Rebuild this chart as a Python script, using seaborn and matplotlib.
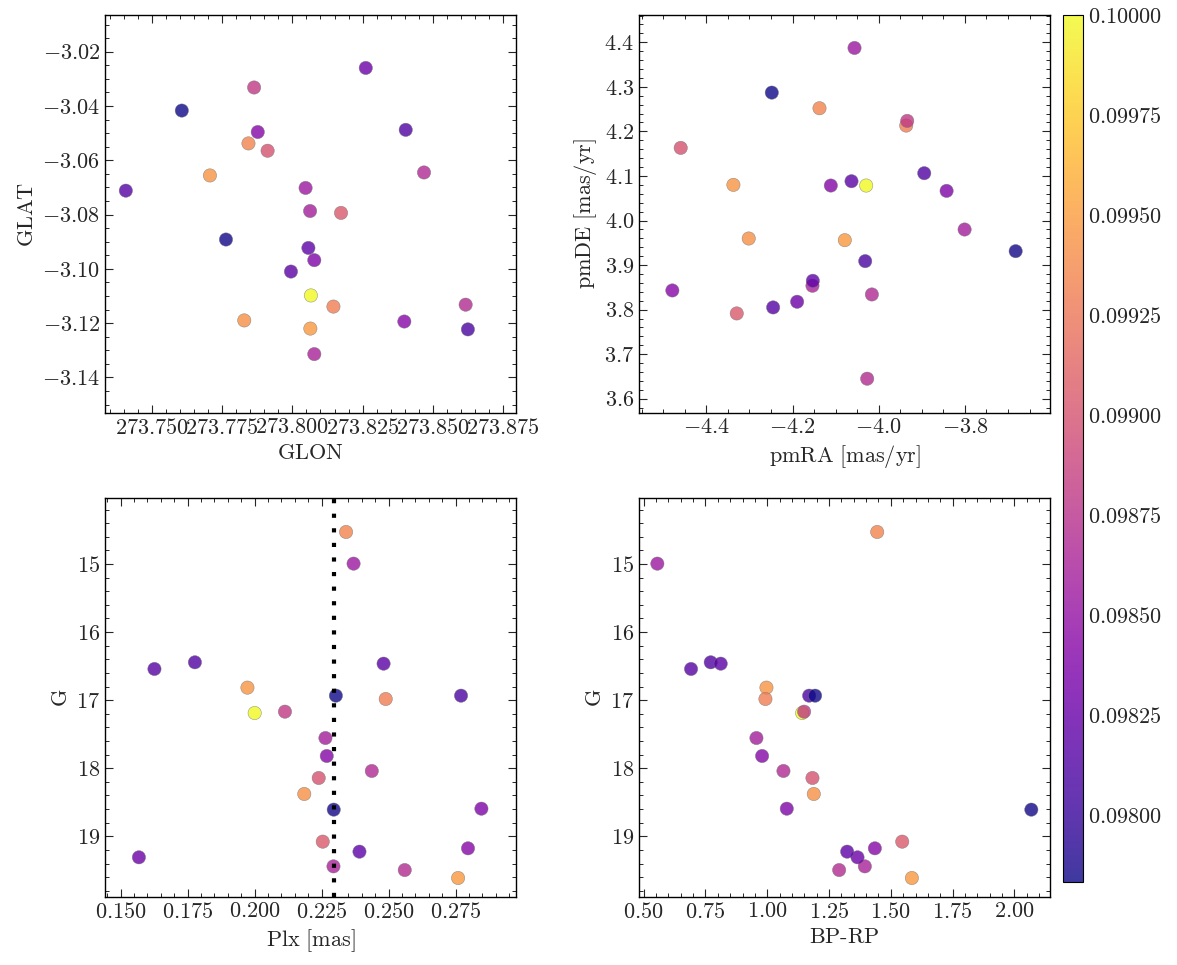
import numpy as np
import pandas as pd
import matplotlib
matplotlib.use("Agg")
import matplotlib.pyplot as plt
import seaborn as sns
from matplotlib.ticker import FuncFormatter, MultipleLocator
from matplotlib.colors import Normalize, ListedColormap
from matplotlib.cm import ScalarMappable

# ---------------- data ----------------
glon = [273.7844, 273.7707, 273.8146, 273.7829, 273.8064, 273.7912, 273.8173, 273.8066,
        273.8047, 273.7864, 273.8063, 273.8468, 273.8078, 273.8616, 273.7877, 273.8078,
        273.8398, 273.8261, 273.7408, 273.8403, 273.7995, 273.8624, 273.8057, 273.7607,
        273.7764]
glat = [-3.0538, -3.0656, -3.1139, -3.1190, -3.1220, -3.0565, -3.0794, -3.1098,
        -3.0702, -3.0332, -3.0787, -3.0645, -3.1314, -3.1132, -3.0496, -3.0968,
        -3.1194, -3.0260, -3.0712, -3.0488, -3.1010, -3.1223, -3.0923, -3.0417,
        -3.0892]
pmra = [-4.1375, -4.3373, -3.9362, -4.3017, -4.0787, -4.4596, -4.3295, -4.0291,
        -4.0562, -3.9339, -3.8007, -4.0159, -4.1538, -4.0268, -4.1112, -3.8425,
        -4.4790, -4.1894, -4.2451, -3.8944, -4.0632, -4.0314, -4.1530, -4.2482,
        -3.6822]
pmde = [4.2520, 4.0800, 4.2131, 3.9596, 3.9559, 4.1630, 3.7914, 4.0785,
        4.3873, 4.2236, 3.9798, 3.8340, 3.8535, 3.6449, 4.0785, 4.0665,
        3.8430, 3.8176, 3.8049, 4.1062, 4.0882, 3.9088, 3.8647, 4.2871,
        3.9312]
plx = [0.2341, 0.1973, 0.2489, 0.2185, 0.2759, 0.2239, 0.2254, 0.2000,
       0.2369, 0.2113, 0.2264, 0.2437, 0.2294, 0.2560, 0.2269, 0.2846,
       0.2796, 0.1568, 0.1626, 0.1777, 0.2481, 0.2770, 0.2391, 0.2303,
       0.2295]
gmag = [14.530, 16.816, 16.983, 18.378, 19.612, 18.143, 19.078, 17.189,
        14.995, 17.169, 17.556, 18.040, 19.441, 19.495, 17.820, 18.594,
        19.176, 19.308, 16.542, 16.444, 16.464, 16.934, 19.225, 16.934,
        18.608]
bprp = [1.4449, 0.9968, 0.9927, 1.1884, 1.5853, 1.1830, 1.5462, 1.1412,
        0.5553, 1.1493, 0.9563, 1.0656, 1.3950, 1.2910, 0.9792, 1.0791,
        1.4355, 1.3653, 0.6917, 0.7713, 0.8118, 1.1695, 1.3234, 1.1938,
        2.0686]
cval = [0.09935, 0.09945, 0.09930, 0.09942, 0.09948, 0.09900, 0.09905, 0.10000,
        0.09855, 0.09880, 0.09860, 0.09868, 0.09862, 0.09870, 0.09840, 0.09838,
        0.09842, 0.09828, 0.09815, 0.09812, 0.09818, 0.09810, 0.09820, 0.09783,
        0.09785]
plx_ref = 0.2296
c_min, c_max = 0.097832, 0.10000

df = pd.DataFrame({"GLON": glon, "GLAT": glat, "pmRA": pmra, "pmDE": pmde,
                   "Plx": plx, "G": gmag, "BP-RP": bprp, "c": cval})

# ---------------- style ----------------
sns.set_style("ticks")
plt.rcParams.update({
    "font.family": "serif",
    "font.serif": ["cmr10", "DejaVu Serif"],
    "mathtext.fontset": "cm",
    "axes.formatter.use_mathtext": True,
    "font.size": 16,
    "axes.labelsize": 16,
    "xtick.labelsize": 16,
    "ytick.labelsize": 16,
    "xtick.direction": "in",
    "ytick.direction": "in",
    "xtick.top": True,
    "ytick.right": True,
    "xtick.minor.visible": True,
    "ytick.minor.visible": True,
    "xtick.major.size": 5.5,
    "ytick.major.size": 5.5,
    "xtick.minor.size": 2.8,
    "ytick.minor.size": 2.8,
    "xtick.major.width": 0.8,
    "ytick.major.width": 0.8,
    "xtick.minor.width": 0.7,
    "ytick.minor.width": 0.7,
    "axes.linewidth": 1.0,
    "axes.edgecolor": "black",
})

W, H = 1177, 965
fig = plt.figure(figsize=(W / 100, H / 100), dpi=100)

def add_ax(l, t, r, b):
    return fig.add_axes([l / W, 1 - b / H, (r - l) / W, (b - t) / H])

ax_tl = add_ax(105, 15, 516, 413)
ax_tr = add_ax(639, 15, 1050, 413)
ax_bl = add_ax(105, 498, 516, 897)
ax_br = add_ax(639, 498, 1050, 897)
cax = add_ax(1063, 15, 1083, 882)

norm = Normalize(vmin=c_min, vmax=c_max)
kw = dict(hue="c", palette="plasma", hue_norm=norm, legend=False,
          s=92, alpha=0.8, edgecolor="0.45", linewidth=0.35)

sns.scatterplot(data=df, x="GLON", y="GLAT", ax=ax_tl, **kw)
sns.scatterplot(data=df, x="pmRA", y="pmDE", ax=ax_tr, **kw)
sns.scatterplot(data=df, x="Plx", y="G", ax=ax_bl, **kw)
sns.scatterplot(data=df, x="BP-RP", y="G", ax=ax_br, **kw)

ax_bl.axvline(plx_ref, color="black", lw=3.0, linestyle=(0, (1, 2.5)),
              dash_capstyle="butt", zorder=5)

ax_tl.set_xlim(273.7334, 273.8795)
ax_tl.set_ylim(-3.1531, -3.0065)
ax_tr.set_xlim(-4.5564, -3.6025)
ax_tr.set_ylim(3.5679, 4.4613)
ax_bl.set_xlim(0.14415, 0.29751)
ax_bl.set_ylim(19.891, 14.031)
ax_br.set_xlim(0.4811, 2.1442)
ax_br.set_ylim(19.891, 14.031)

ax_tl.xaxis.set_major_locator(MultipleLocator(0.025))
ax_tl.yaxis.set_major_locator(MultipleLocator(0.02))
ax_tr.xaxis.set_major_locator(MultipleLocator(0.2))
ax_tr.yaxis.set_major_locator(MultipleLocator(0.1))
ax_bl.xaxis.set_major_locator(MultipleLocator(0.025))
ax_br.xaxis.set_major_locator(MultipleLocator(0.25))
for ax in (ax_bl, ax_br):
    ax.yaxis.set_major_locator(MultipleLocator(1))

for ax in (ax_tl, ax_tr, ax_bl, ax_br):
    ax.ticklabel_format(useOffset=False)

ax_tl.set_xlabel(r"$\mathrm{GLON}$")
ax_tl.set_ylabel(r"$\mathrm{GLAT}$")
ax_tr.set_xlabel(r"$\mathrm{pmRA\ [mas/yr]}$")
ax_tr.set_ylabel(r"$\mathrm{pmDE\ [mas/yr]}$")
ax_bl.set_xlabel(r"$\mathrm{Plx\ [mas]}$")
ax_bl.set_ylabel(r"$\mathrm{G}$")
ax_br.set_xlabel(r"$\mathrm{BP\text{-}RP}$")
ax_br.set_ylabel(r"$\mathrm{G}$")

# colorbar, with the same translucency as the markers
base = plt.get_cmap("plasma")(np.linspace(0, 1, 256))
blend = base.copy()
blend[:, :3] = 0.8 * base[:, :3] + 0.2
sm = ScalarMappable(norm=norm, cmap=ListedColormap(blend))
cbar = fig.colorbar(sm, cax=cax)
cbar.ax.yaxis.set_major_locator(MultipleLocator(0.00025))
cbar.ax.yaxis.set_minor_locator(MultipleLocator(0.00005))
cbar.ax.yaxis.set_major_formatter(FuncFormatter(lambda v, p: r"$%.5f$" % v))
cbar.ax.tick_params(which="both", direction="in", right=True)
cbar.outline.set_linewidth(0.8)

fig.savefig("out.png", dpi=100)
